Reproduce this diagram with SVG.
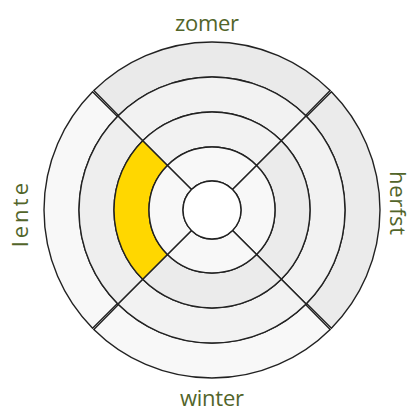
<svg xmlns="http://www.w3.org/2000/svg" width="414" height="412" viewBox="0 0 414 412">
<style>
.seg{stroke:#222222;stroke-width:1.4;stroke-linejoin:miter}
.lbl{font-family:"Open Sans","DejaVu Sans",sans-serif;font-size:22px;fill:#52652a}
</style>
<rect width="414" height="412" fill="#ffffff"/>
<g id="ring4">
<path id="r4-top" class="seg" fill="#eaeaea" d="M93.83,90.59 A168,168 0 0 1 330.17,90.59 L305.55,115.46 A133,133 0 0 0 118.45,115.46 Z"/>
<path id="r4-right" class="seg" fill="#ebebeb" d="M331.41,91.83 A168,168 0 0 1 331.41,328.17 L306.54,303.55 A133,133 0 0 0 306.54,116.45 Z"/>
<path id="r4-bottom" class="seg" fill="#f8f8f8" d="M330.17,329.41 A168,168 0 0 1 93.83,329.41 L118.45,304.54 A133,133 0 0 0 305.55,304.54 Z"/>
<path id="r4-left" class="seg" fill="#f8f8f8" d="M92.59,328.17 A168,168 0 0 1 92.59,91.83 L117.46,116.45 A133,133 0 0 0 117.46,303.55 Z"/>
</g>
<g id="ring3">
<path id="r3-top" class="seg" fill="#f2f2f2" d="M117.95,115.95 A133,133 0 0 1 306.05,115.95 L281.30,140.70 A98,98 0 0 0 142.70,140.70 Z"/>
<path id="r3-right" class="seg" fill="#f2f2f2" d="M306.05,115.95 A133,133 0 0 1 306.05,304.05 L281.30,279.30 A98,98 0 0 0 281.30,140.70 Z"/>
<path id="r3-bottom" class="seg" fill="#f2f2f2" d="M306.05,304.05 A133,133 0 0 1 117.95,304.05 L142.70,279.30 A98,98 0 0 0 281.30,279.30 Z"/>
<path id="r3-left" class="seg" fill="#eeeeee" d="M117.95,304.05 A133,133 0 0 1 117.95,115.95 L142.70,140.70 A98,98 0 0 0 142.70,279.30 Z"/>
</g>
<g id="ring2">
<path id="r2-top" class="seg" fill="#f2f2f2" d="M142.70,140.70 A98,98 0 0 1 281.30,140.70 L256.55,165.45 A63,63 0 0 0 167.45,165.45 Z"/>
<path id="r2-right" class="seg" fill="#ebebeb" d="M281.30,140.70 A98,98 0 0 1 281.30,279.30 L256.55,254.55 A63,63 0 0 0 256.55,165.45 Z"/>
<path id="r2-bottom" class="seg" fill="#ebebeb" d="M281.30,279.30 A98,98 0 0 1 142.70,279.30 L167.45,254.55 A63,63 0 0 0 256.55,254.55 Z"/>
<path id="r2-left" class="seg" fill="#ffd700" d="M142.70,279.30 A98,98 0 0 1 142.70,140.70 L167.45,165.45 A63,63 0 0 0 167.45,254.55 Z"/>
</g>
<g id="ring1">
<path id="r1-top" class="seg" fill="#f8f8f8" d="M167.45,165.45 A63,63 0 0 1 256.55,165.45 L232.51,189.49 A29,29 0 0 0 191.49,189.49 Z"/>
<path id="r1-right" class="seg" fill="#f8f8f8" d="M256.55,165.45 A63,63 0 0 1 256.55,254.55 L232.51,230.51 A29,29 0 0 0 232.51,189.49 Z"/>
<path id="r1-bottom" class="seg" fill="#f8f8f8" d="M256.55,254.55 A63,63 0 0 1 167.45,254.55 L191.49,230.51 A29,29 0 0 0 232.51,230.51 Z"/>
<path id="r1-left" class="seg" fill="#f8f8f8" d="M167.45,254.55 A63,63 0 0 1 167.45,165.45 L191.49,189.49 A29,29 0 0 0 191.49,230.51 Z"/>
</g>
<g id="center">
<circle class="seg" cx="212" cy="210" r="29" fill="#ffffff"/>
</g>
<g id="labels">
<text class="lbl" x="175" y="31" textLength="64">zomer</text>
<text class="lbl" x="180" y="406" textLength="64">winter</text>
<text class="lbl" transform="translate(28,247) rotate(-90)" textLength="64">lente</text>
<text class="lbl" transform="translate(390,171) rotate(90)" textLength="64">herfst</text>
</g>
</svg>
